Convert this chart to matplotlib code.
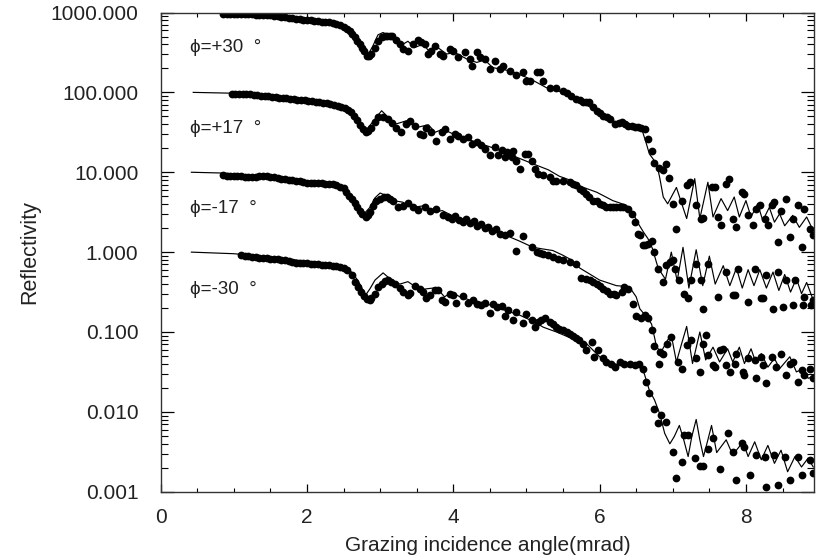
import numpy as np
import matplotlib
matplotlib.use("Agg")
import matplotlib.pyplot as plt
from matplotlib.ticker import FixedLocator, MultipleLocator, LogLocator, NullFormatter

plt.rcParams['font.family'] = ['Liberation Sans', 'DejaVu Sans']

# tilt angle of each curve and where its label sits (log10 reflectivity)
curve_names = ["ϕ=+30  °", "ϕ=+17  °", "ϕ=-17  °", "ϕ=-30  °"]
label_logR = [2.56, 1.55, 0.545, -0.47]

y_ticks = [0.001, 0.01, 0.1, 1, 10, 100, 1000]
x_ticks = [0, 2, 4, 6, 8]

# points are (grazing angle in mrad, log10 reflectivity)
meas_p30 = [(0.85,2.985),(0.90,2.985),(0.95,2.983),(1.00,2.982),(1.05,2.98),(1.10,2.98),(1.15,2.978),(1.20,2.977),
    (1.25,2.976),(1.30,2.975),(1.35,2.973),(1.40,2.97),(1.45,2.968),(1.50,2.965),(1.55,2.96),(1.60,2.955),(1.65,2.945),
    (1.70,2.94),(1.75,2.935),(1.80,2.93),(1.85,2.92),(1.90,2.915),(1.95,2.91),(2.00,2.905),(2.05,2.90),(2.10,2.895),
    (2.15,2.89),(2.20,2.885),(2.25,2.88),(2.30,2.875),(2.35,2.865),(2.40,2.855),(2.45,2.84),(2.50,2.82),(2.55,2.795),
    (2.59,2.77),(2.62,2.73),(2.65,2.69),(2.69,2.645),(2.72,2.605),(2.75,2.56),(2.78,2.52),(2.82,2.46),(2.85,2.45),
    (2.88,2.48),(2.93,2.56),(2.97,2.645),(3.02,2.69),(3.06,2.70),(3.09,2.71),(3.13,2.71),(3.16,2.70),(3.22,2.66),
    (3.27,2.605),(3.31,2.54),(3.38,2.52),(3.45,2.605),(3.52,2.655),(3.56,2.63),(3.61,2.605),(3.66,2.48),(3.70,2.52),
    (3.75,2.58),(3.82,2.48),(3.86,2.46),(3.95,2.54),(4.00,2.52),(4.07,2.44),(4.16,2.50),(4.23,2.42),(4.25,2.335),
    (4.32,2.50),(4.37,2.44),(4.43,2.42),(4.50,2.29),(4.57,2.395),(4.64,2.29),(4.68,2.335),(4.77,2.27),(4.86,2.22),
    (4.95,2.25),(5.00,2.145),(5.05,2.145),(5.14,2.25),(5.18,2.25),(5.23,2.14),(5.32,2.055),(5.41,2.05),(5.50,2.02),
    (5.55,1.99),(5.61,1.96),(5.68,1.92),(5.73,1.905),(5.77,1.875),(5.82,1.875),(5.86,1.875),(5.91,1.82),(5.96,1.77),
    (6.00,1.74),(6.05,1.71),(6.10,1.69),(6.14,1.67),(6.21,1.605),(6.26,1.615),(6.30,1.625),(6.35,1.60),(6.39,1.585),
    (6.44,1.575),(6.48,1.57),(6.53,1.565),(6.57,1.56),(6.62,1.54),(6.66,1.415),(6.71,1.26),(6.75,1.11),(6.81,1.05),
    (6.87,1.03),(6.91,1.105),(6.95,0.93),(7.00,0.605),(7.05,0.29),(7.12,0.645),(7.19,0.835),(7.23,0.875),(7.32,0.585),
    (7.38,0.42),(7.41,0.43),(7.53,0.81),(7.58,0.81),(7.62,0.44),(7.66,0.335),(7.73,0.855),(7.77,0.92),(7.82,0.42),
    (7.87,0.31),(7.94,0.75),(7.98,0.73),(8.03,0.46),(8.10,0.335),(8.14,0.54),(8.19,0.585),(8.26,0.42),(8.30,0.335),
    (8.35,0.585),(8.39,0.625),(8.44,0.125),(8.48,0.52),(8.55,0.67),(8.60,0.19),(8.64,0.42),(8.71,0.585),(8.76,0.06),
    (8.80,0.54),(8.87,0.29),(8.92,0.21)]
fit_p30 = [(0.42,3.0),(0.85,2.995),(1.58,2.965),(1.99,2.915),(2.27,2.88),(2.47,2.84),(2.59,2.79),(2.68,2.68),(2.76,2.55),
    (2.84,2.48),(2.90,2.58),(2.97,2.72),(3.04,2.75),(3.18,2.67),(3.27,2.58),(3.38,2.64),(3.47,2.56),(3.59,2.605),
    (3.68,2.50),(3.79,2.56),(3.91,2.48),(4.02,2.50),(4.18,2.42),(4.32,2.375),(4.43,2.405),(4.54,2.31),(4.77,2.27),
    (5.05,2.17),(5.27,2.06),(5.50,2.0),(5.68,1.92),(5.84,1.83),(6.00,1.75),(6.18,1.645),(6.37,1.58),(6.55,1.56),
    (6.59,1.50),(6.64,1.355),(6.68,1.23),(6.78,1.105),(6.82,0.94),(6.87,0.69),(6.93,0.605),(7.05,0.81),(7.19,0.42),
    (7.30,0.92),(7.37,0.42),(7.48,0.875),(7.55,0.44),(7.66,0.67),(7.75,0.52),(7.84,0.69),(7.91,0.44),(8.00,0.645),
    (8.07,0.44),(8.16,0.605),(8.23,0.395),(8.32,0.56),(8.39,0.375),(8.46,0.48),(8.53,0.33),(8.64,0.46),(8.73,0.31),
    (8.83,0.44),(8.92,0.27)]

meas_p17 = [(0.97,1.985),(1.02,1.983),(1.07,1.982),(1.12,1.98),(1.17,1.978),(1.22,1.975),(1.27,1.97),(1.32,1.965),
    (1.37,1.96),(1.42,1.955),(1.47,1.95),(1.52,1.945),(1.57,1.94),(1.62,1.935),(1.67,1.93),(1.72,1.925),(1.77,1.92),
    (1.82,1.915),(1.87,1.91),(1.92,1.905),(1.97,1.90),(2.02,1.895),(2.07,1.89),(2.12,1.88),(2.17,1.875),(2.22,1.87),
    (2.27,1.862),(2.32,1.855),(2.37,1.845),(2.42,1.835),(2.47,1.82),(2.52,1.80),(2.56,1.78),(2.60,1.75),(2.64,1.71),
    (2.68,1.66),(2.72,1.59),(2.76,1.54),(2.80,1.51),(2.84,1.52),(2.88,1.56),(2.93,1.625),(2.97,1.69),(3.04,1.69),
    (3.11,1.67),(3.16,1.62),(3.22,1.56),(3.29,1.50),(3.36,1.605),(3.41,1.645),(3.47,1.585),(3.54,1.48),(3.58,1.47),
    (3.63,1.56),(3.70,1.50),(3.77,1.395),(3.84,1.50),(3.88,1.54),(3.95,1.415),(4.02,1.48),(4.07,1.46),(4.13,1.415),
    (4.20,1.44),(4.25,1.355),(4.32,1.375),(4.38,1.335),(4.43,1.29),(4.50,1.21),(4.57,1.31),(4.61,1.21),(4.66,1.28),
    (4.70,1.19),(4.73,1.25),(4.80,1.19),(4.82,1.27),(4.86,1.145),(4.91,1.04),(4.98,1.23),(5.02,1.23),(5.07,1.145),
    (5.11,1.04),(5.16,0.98),(5.23,0.96),(5.32,0.94),(5.36,0.895),(5.41,0.895),(5.50,0.895),(5.59,0.875),(5.64,0.855),
    (5.68,0.835),(5.73,0.79),(5.77,0.77),(5.82,0.73),(5.86,0.69),(5.91,0.645),(5.96,0.645),(6.00,0.605),(6.05,0.585),
    (6.09,0.56),(6.14,0.56),(6.18,0.56),(6.23,0.56),(6.28,0.565),(6.32,0.565),(6.39,0.54),(6.44,0.48),(6.48,0.38),
    (6.53,0.23),(6.55,0.21),(6.59,0.085),(6.62,0.085),(6.66,0.10),(6.71,0.145),(6.75,0.0),(6.80,-0.21),(6.87,-0.375),
    (6.91,-0.165),(6.96,-0.125),(7.00,-0.10),(7.03,-0.21),(7.09,-0.355),(7.16,-0.52),(7.21,-0.58),(7.25,-0.355),
    (7.32,-0.145),(7.38,-0.355),(7.41,-0.71),(7.48,-0.145),(7.62,-0.56),(7.73,-0.25),(7.82,-0.54),(7.85,-0.54),
    (7.89,-0.21),(8.03,-0.625),(8.12,-0.21),(8.21,-0.58),(8.24,-0.58),(8.28,-0.29),(8.37,-0.71),(8.44,-0.25),
    (8.51,-0.69),(8.55,-0.355),(8.64,-0.665),(8.67,-0.355),(8.78,-0.665),(8.80,-0.56),(8.89,-0.665),(8.92,-0.60)]
fit_p17 = [(0.445,2.0),(0.97,1.99),(1.50,1.955),(2.00,1.90),(2.30,1.865),(2.50,1.83),(2.60,1.79),(2.70,1.65),(2.80,1.52),
    (2.90,1.63),(3.02,1.77),(3.12,1.68),(3.22,1.605),(3.36,1.645),(3.50,1.56),(3.66,1.595),(3.75,1.50),(3.86,1.54),
    (4.04,1.46),(4.32,1.375),(4.59,1.29),(4.86,1.19),(5.09,1.105),(5.30,1.03),(5.45,0.95),(5.60,0.90),(5.75,0.82),
    (5.96,0.75),(6.18,0.645),(6.37,0.585),(6.46,0.48),(6.53,0.355),(6.60,0.25),(6.66,0.17),(6.72,0.05),(6.80,-0.2),
    (6.90,-0.34),(6.98,0.0),(7.06,-0.36),(7.14,0.06),(7.22,-0.45),(7.32,0.03),(7.41,-0.42),(7.50,-0.05),(7.58,-0.40),
    (7.69,-0.17),(7.78,-0.42),(7.87,-0.2),(7.95,-0.45),(8.03,-0.22),(8.11,-0.42),(8.19,-0.22),(8.28,-0.45),(8.37,-0.25),
    (8.45,-0.48),(8.53,-0.28),(8.61,-0.50),(8.69,-0.33),(8.76,-0.52),(8.83,-0.38),(8.92,-0.60)]

meas_m17 = [(0.85,0.96),(0.90,0.955),(0.95,0.955),(1.00,0.95),(1.05,0.95),(1.10,0.948),(1.15,0.946),(1.20,0.945),
    (1.25,0.945),(1.30,0.945),(1.35,0.948),(1.40,0.95),(1.45,0.95),(1.50,0.945),(1.55,0.935),(1.60,0.93),(1.65,0.92),
    (1.70,0.91),(1.75,0.905),(1.80,0.90),(1.85,0.895),(1.90,0.885),(1.95,0.875),(2.00,0.87),(2.05,0.87),(2.10,0.865),
    (2.15,0.862),(2.20,0.86),(2.25,0.858),(2.30,0.855),(2.35,0.85),(2.40,0.84),(2.45,0.82),(2.50,0.80),(2.54,0.75),
    (2.58,0.70),(2.61,0.67),(2.65,0.61),(2.68,0.56),(2.72,0.51),(2.75,0.48),(2.80,0.445),(2.83,0.46),(2.86,0.50),
    (2.90,0.58),(2.95,0.64),(3.00,0.67),(3.05,0.69),(3.09,0.69),(3.14,0.67),(3.18,0.645),(3.25,0.56),(3.31,0.58),
    (3.38,0.61),(3.45,0.56),(3.52,0.53),(3.61,0.56),(3.68,0.52),(3.77,0.54),(3.86,0.46),(3.93,0.44),(3.98,0.42),
    (4.03,0.45),(4.08,0.40),(4.13,0.38),(4.18,0.41),(4.23,0.36),(4.28,0.39),(4.33,0.33),(4.38,0.35),(4.43,0.30),
    (4.48,0.32),(4.53,0.27),(4.58,0.29),(4.64,0.23),(4.70,0.21),(4.77,0.24),(4.86,0.02),(4.95,0.20),(5.07,0.06),
    (5.14,0.0),(5.18,-0.01),(5.23,-0.02),(5.30,-0.04),(5.36,-0.06),(5.43,-0.08),(5.50,-0.10),(5.59,-0.12),(5.68,-0.145),
    (5.75,-0.33),(5.82,-0.34),(5.87,-0.35),(5.91,-0.37),(5.96,-0.395),(6.00,-0.42),(6.05,-0.46),(6.10,-0.49),
    (6.14,-0.52),(6.19,-0.53),(6.23,-0.54),(6.30,-0.50),(6.34,-0.44),(6.39,-0.46),(6.46,-0.645),(6.50,-0.80),
    (6.57,-0.83),(6.62,-0.79),(6.66,-0.83),(6.71,-0.98),(6.75,-1.17),(6.81,-1.40),(6.82,-1.25),(6.87,-1.27),
    (6.92,-1.145),(6.98,-1.06),(7.07,-1.375),(7.12,-1.46),(7.19,-1.165),(7.25,-1.10),(7.32,-1.33),(7.37,-1.50),
    (7.41,-1.145),(7.46,-1.04),(7.48,-1.29),(7.55,-1.415),(7.58,-1.44),(7.64,-1.23),(7.69,-1.21),(7.73,-1.415),
    (7.78,-1.50),(7.85,-1.395),(7.87,-1.27),(7.96,-1.50),(7.98,-1.54),(8.03,-1.33),(8.12,-1.355),(8.14,-1.58),
    (8.21,-1.31),(8.23,-1.415),(8.28,-1.64),(8.35,-1.31),(8.41,-1.44),(8.48,-1.27),(8.55,-1.54),(8.60,-1.395),
    (8.64,-1.375),(8.71,-1.62),(8.76,-1.48),(8.80,-1.54),(8.87,-1.46),(8.92,-1.58)]
fit_m17 = [(0.42,1.0),(0.85,0.99),(1.20,0.965),(1.50,0.945),(1.80,0.91),(2.05,0.88),(2.30,0.86),(2.45,0.83),(2.55,0.77),
    (2.65,0.64),(2.72,0.53),(2.78,0.48),(2.86,0.56),(2.93,0.68),(3.00,0.74),(3.10,0.70),(3.18,0.645),(3.31,0.625),
    (3.43,0.56),(3.60,0.58),(3.72,0.50),(3.85,0.52),(4.00,0.45),(4.30,0.36),(4.64,0.24),(4.90,0.14),(5.09,0.06),
    (5.22,0.04),(5.36,0.02),(5.50,-0.04),(5.60,-0.09),(5.73,-0.2),(6.00,-0.35),(6.23,-0.42),(6.37,-0.43),(6.44,-0.48),
    (6.50,-0.56),(6.55,-0.71),(6.64,-0.81),(6.71,-0.90),(6.78,-1.19),(6.84,-1.25),(6.93,-1.10),(6.98,-1.04),
    (7.05,-1.375),(7.12,-1.15),(7.19,-0.93),(7.27,-1.395),(7.37,-1.0),(7.45,-1.35),(7.55,-1.19),(7.64,-1.375),
    (7.75,-1.21),(7.82,-1.375),(7.91,-1.19),(7.98,-1.395),(8.07,-1.21),(8.14,-1.395),(8.21,-1.27),(8.30,-1.44),
    (8.39,-1.33),(8.46,-1.46),(8.60,-1.31),(8.69,-1.50),(8.78,-1.46),(8.85,-1.58),(8.92,-1.56)]

meas_m30 = [(1.10,-0.04),(1.15,-0.05),(1.20,-0.05),(1.25,-0.06),(1.30,-0.06),(1.35,-0.07),(1.40,-0.07),(1.45,-0.07),
    (1.50,-0.08),(1.55,-0.08),(1.60,-0.09),(1.65,-0.10),(1.70,-0.10),(1.75,-0.11),(1.80,-0.12),(1.85,-0.13),(1.90,-0.13),
    (1.95,-0.14),(2.00,-0.14),(2.05,-0.15),(2.10,-0.15),(2.15,-0.15),(2.20,-0.16),(2.25,-0.16),(2.30,-0.16),(2.35,-0.17),
    (2.40,-0.18),(2.45,-0.19),(2.50,-0.20),(2.55,-0.22),(2.61,-0.29),(2.66,-0.37),(2.70,-0.44),(2.74,-0.50),(2.78,-0.55),
    (2.82,-0.59),(2.86,-0.60),(2.88,-0.58),(2.93,-0.52),(2.97,-0.44),(3.02,-0.395),(3.06,-0.36),(3.11,-0.35),(3.15,-0.37),
    (3.20,-0.395),(3.27,-0.445),(3.31,-0.50),(3.38,-0.54),(3.41,-0.51),(3.47,-0.42),(3.54,-0.46),(3.59,-0.50),(3.63,-0.58),
    (3.68,-0.54),(3.75,-0.48),(3.79,-0.47),(3.84,-0.60),(3.88,-0.625),(3.95,-0.52),(3.99,-0.54),(4.04,-0.64),(4.13,-0.555),
    (4.20,-0.64),(4.27,-0.595),(4.32,-0.655),(4.38,-0.665),(4.43,-0.64),(4.50,-0.76),(4.54,-0.655),(4.60,-0.69),
    (4.66,-0.68),(4.70,-0.80),(4.75,-0.73),(4.82,-0.85),(4.86,-0.75),(4.95,-0.89),(5.00,-0.77),(5.07,-0.845),(5.11,-0.94),
    (5.16,-0.88),(5.20,-0.855),(5.25,-0.83),(5.32,-0.875),(5.36,-0.90),(5.41,-0.94),(5.45,-0.96),(5.50,-0.98),(5.55,-1.0),
    (5.59,-1.03),(5.64,-1.05),(5.68,-1.08),(5.72,-1.10),(5.77,-1.145),(5.82,-1.23),(5.89,-1.125),(5.93,-1.31),(5.98,-1.23),
    (6.05,-1.33),(6.09,-1.375),(6.16,-1.395),(6.21,-1.44),(6.28,-1.375),(6.34,-1.395),(6.41,-1.40),(6.48,-1.415),
    (6.54,-1.395),(6.59,-1.46),(6.64,-1.625),(6.68,-1.77),(6.75,-1.96),(6.80,-2.145),(6.84,-2.04),(6.91,-2.125),(7.00,-2.50),
    (7.05,-2.83),(7.12,-2.625),(7.16,-2.29),(7.21,-2.29),(7.30,-2.58),(7.37,-2.675),(7.42,-2.675),(7.48,-2.46),(7.55,-2.33),
    (7.64,-2.71),(7.75,-2.27),(7.82,-2.50),(7.87,-2.85),(7.94,-2.395),(7.98,-2.44),(8.05,-2.79),(8.14,-2.54),(8.26,-2.56),
    (8.28,-2.94),(8.39,-2.54),(8.44,-2.92),(8.53,-2.56),(8.60,-2.85),(8.71,-2.56),(8.76,-2.79),(8.87,-2.60),(8.92,-2.77)]
fit_m30 = [(0.42,0.0),(1.00,-0.02),(1.50,-0.06),(1.95,-0.11),(2.27,-0.14),(2.47,-0.18),(2.61,-0.25),(2.70,-0.36),
    (2.80,-0.54),(2.86,-0.46),(2.93,-0.35),(3.04,-0.26),(3.18,-0.37),(3.27,-0.40),(3.38,-0.37),(3.54,-0.47),(3.77,-0.445),
    (3.88,-0.56),(3.98,-0.50),(4.09,-0.56),(4.23,-0.60),(4.45,-0.645),(4.68,-0.72),(4.91,-0.79),(5.11,-0.875),(5.23,-0.94),
    (5.41,-1.0),(5.59,-1.07),(5.82,-1.145),(6.00,-1.31),(6.18,-1.395),(6.41,-1.44),(6.54,-1.43),(6.61,-1.52),(6.68,-1.73),
    (6.75,-1.85),(6.82,-2.02),(6.89,-2.27),(6.96,-2.40),(7.02,-2.31),(7.09,-2.17),(7.15,-2.35),(7.21,-2.56),(7.26,-2.31),
    (7.32,-2.095),(7.37,-2.35),(7.42,-2.56),(7.48,-2.35),(7.53,-2.17),(7.60,-2.51),(7.73,-2.35),(7.82,-2.54),(7.96,-2.375),
    (8.03,-2.56),(8.12,-2.375),(8.21,-2.60),(8.30,-2.42),(8.39,-2.645),(8.48,-2.48),(8.57,-2.75),(8.67,-2.56),(8.76,-2.69),
    (8.85,-2.58),(8.92,-2.69)]

measured = [meas_p30, meas_p17, meas_m17, meas_m30]
fitted = [fit_p30, fit_p17, fit_m17, fit_m30]

txt = '#222222'
fig = plt.figure(figsize=(8.16, 5.56), dpi=100)
ax = fig.add_axes([0.1969, 0.1156, 0.8006, 0.8619])

for meas, fit in zip(measured, fitted):
    fx, fy = np.array(fit).T
    mx, my = np.array(meas).T
    ax.plot(fx, 10 ** fy, '-', color='k', lw=0.85)
    ax.plot(mx, 10 ** my, 'o', color='k', ms=5.6, mew=0)

for name, ly in zip(curve_names, label_logR):
    ax.text(0.40, 10 ** ly, name, fontsize=13.5, color=txt, va='center', ha='left')

ax.set_yscale('log')
ax.set_ylim(0.001, 1000)
ax.set_xlim(0, 8.93)
ax.yaxis.set_major_locator(FixedLocator(y_ticks))
ax.set_yticklabels(['%.3f' % v for v in y_ticks])
ax.yaxis.set_minor_locator(LogLocator(base=10, subs=range(2, 10)))
ax.yaxis.set_minor_formatter(NullFormatter())
ax.set_xticks(x_ticks)
ax.xaxis.set_minor_locator(MultipleLocator(0.5))

ax.tick_params(axis='y', which='major', direction='in', length=9.5, width=0.9, pad=16,
               labelsize=15, labelcolor=txt, left=True, right=True)
ax.tick_params(axis='y', which='minor', direction='in', length=4.8, width=0.8, left=True, right=True)
ax.tick_params(axis='x', which='major', direction='in', length=6, width=0.9, pad=11.5,
               labelsize=15, labelcolor=txt, bottom=True, top=True)
ax.tick_params(axis='x', which='minor', direction='in', length=3, width=0.8, bottom=True, top=True)
for s in ax.spines.values():
    s.set_linewidth(1.0)
    s.set_color('#333333')

ax.set_xlabel('Grazing incidence angle(mrad)', fontsize=15, color=txt)
ax.set_ylabel('Reflectivity', fontsize=15.5, color=txt)
ax.xaxis.set_label_coords(0.5, -0.092)
ax.xaxis.label.set_va('top')
ax.yaxis.set_label_coords(-0.185, 0.5)

fig.savefig('out.png', dpi=100)
